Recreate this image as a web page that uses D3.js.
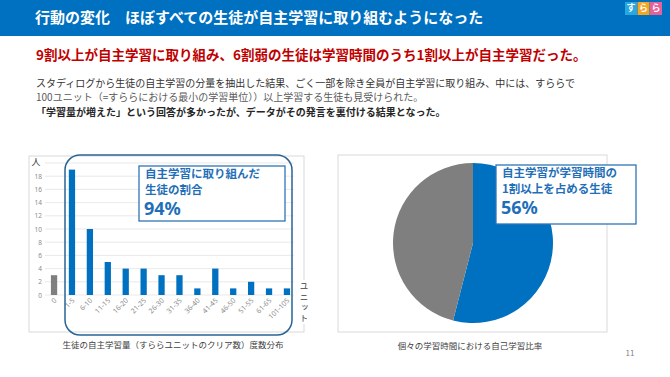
<!DOCTYPE html>
<html>
<head>
<meta charset="utf-8">
<script src="https://cdnjs.cloudflare.com/ajax/libs/d3/7.8.5/d3.min.js"></script>
<style>
  body { margin: 0; background: #fff; }
  text { font-family: "Noto Sans CJK JP", "Noto Sans", sans-serif; }
</style>
</head>
<body>
<script>
// bar chart data
const units = ["0", "1-5", "6-10", "11-15", "16-20", "21-25", "26-30", "31-35", "36-40", "41-45", "46-50", "51-55", "61-65", "101-105"];
const students = [3, 19, 10, 5, 4, 4, 3, 3, 1, 4, 1, 2, 1, 1];
const yTicks = [0, 2, 4, 6, 8, 10, 12, 14, 16, 18];
// pie data
const pieLabels = ["1割以上", "1割未満"];
const pieValues = [54, 46];

const w = 670, h = 377;
const blue = "#0070c0", gray = "#7f7f7f";

const svg = d3.select("body").append("svg")
  .attr("width", w).attr("height", h);

svg.append("rect").attr("width", w).attr("height", h).attr("fill", "#fff");

// header
svg.append("rect").attr("width", w).attr("height", 36).attr("fill", blue);
svg.append("text")
  .attr("x", 35).attr("y", 19)
  .attr("dominant-baseline", "middle")
  .attr("fill", "#fff").attr("font-size", 15).attr("font-weight", "bold")
  .text("行動の変化　ほぼすべての生徒が自主学習に取り組むようになった");

// logo
const logo = [["す", "#29a8e0"], ["ら", "#f5a623"], ["ら", "#e8609a"]];
logo.forEach((d, i) => {
  svg.append("rect").attr("x", 625 + i * 12.5).attr("y", 2).attr("width", 12).attr("height", 13).attr("fill", d[1]);
  svg.append("text").attr("x", 631 + i * 12.5).attr("y", 9)
    .attr("text-anchor", "middle").attr("dominant-baseline", "middle")
    .attr("fill", "#fff").attr("font-size", 9).attr("font-weight", "bold").text(d[0]);
});

svg.append("text")
  .attr("x", 36).attr("y", 56).attr("dominant-baseline", "middle")
  .attr("fill", "#c00000").attr("font-size", 13.5).attr("font-weight", "bold")
  .text("9割以上が自主学習に取り組み、6割弱の生徒は学習時間のうち1割以上が自主学習だった。");

const body = [
  ["スタディログから生徒の自主学習の分量を抽出した結果、ごく一部を除き全員が自主学習に取り組み、中には、すららで", "#333", "normal"],
  ["100ユニット（=すららにおける最小の学習単位））以上学習する生徒も見受けられた。", "#595959", "normal"],
  ["「学習量が増えた」という回答が多かったが、データがその発言を裏付ける結果となった。", "#262626", "bold"]
];
body.forEach((d, i) => {
  svg.append("text").attr("x", 36).attr("y", 84 + i * 14.5)
    .attr("dominant-baseline", "middle")
    .attr("fill", d[1]).attr("font-size", 10).attr("font-weight", d[2])
    .text(d[0]);
});

// ---- bar chart ----
svg.append("rect").attr("x", 29).attr("y", 156).attr("width", 275).attr("height", 176)
  .attr("fill", "none").attr("stroke", "#d9d9d9").attr("stroke-width", 1);

const x = d3.scaleBand().domain(units).range([45, 296]).paddingInner(0.65).paddingOuter(0.33);
const y = d3.scaleLinear().domain([0, 20]).range([295, 163]);

const grid = svg.append("g");
grid.selectAll("line").data(yTicks.concat([20])).enter().append("line")
  .attr("x1", 45).attr("x2", 294)
  .attr("y1", d => y(d)).attr("y2", d => y(d))
  .attr("stroke", "#e3e3e3").attr("stroke-width", 0.8);

const yAxis = svg.append("g").attr("transform", "translate(42,0)")
  .call(d3.axisLeft(y).tickValues(yTicks).tickSize(0).tickPadding(0));
yAxis.select(".domain").remove();
yAxis.selectAll("text").attr("fill", "#8c8c8c").attr("font-size", 6.5)
  .style("font-family", "'Noto Sans', sans-serif");

svg.append("text").attr("x", 36).attr("y", y(20)).attr("text-anchor", "middle")
  .attr("dominant-baseline", "middle").attr("font-size", 9).attr("fill", "#404040").text("人");

svg.selectAll(".bar").data(units).enter().append("rect")
  .attr("class", "bar")
  .attr("x", d => x(d))
  .attr("y", (d, i) => y(students[i]))
  .attr("width", x.bandwidth())
  .attr("height", (d, i) => y(0) - y(students[i]))
  .attr("fill", (d, i) => i === 0 ? gray : blue);

const xAxis = svg.append("g").attr("transform", "translate(0,298)")
  .call(d3.axisBottom(x).tickSize(0).tickPadding(0));
xAxis.select(".domain").remove();
xAxis.selectAll("text")
  .attr("fill", "#8c8c8c").attr("font-size", 7)
  .style("font-family", "'Noto Sans', sans-serif")
  .attr("text-anchor", "end")
  .attr("dy", 0).attr("y", 0)
  .attr("transform", "translate(3,3) rotate(-45)");

// vertical unit label
svg.append("rect").attr("x", 299).attr("y", 280).attr("width", 10).attr("height", 44).attr("fill", "#fff");
svg.append("text").attr("x", 304).attr("y", 282)
  .style("writing-mode", "vertical-rl")
  .attr("letter-spacing", 2)
  .attr("font-size", 8.5).attr("fill", "#404040").text("ユニット");

// highlight frame
svg.append("rect").attr("x", 65).attr("y", 155).attr("width", 227).attr("height", 180)
  .attr("rx", 15).attr("fill", "none").attr("stroke", "#2a6496").attr("stroke-width", 1.5);

function callout(x0, y0, bw, bh, l1, l2, big) {
  svg.append("rect").attr("x", x0).attr("y", y0).attr("width", bw).attr("height", bh)
    .attr("fill", "#fff").attr("stroke", "#2e75b6").attr("stroke-width", 1.3);
  const t = svg.append("g").attr("fill", "#1f6fb8").attr("font-weight", "bold");
  t.append("text").attr("x", x0 + 6).attr("y", y0 + 9).attr("dominant-baseline", "middle")
    .attr("font-size", 11.5).text(l1);
  t.append("text").attr("x", x0 + 6).attr("y", y0 + 24.5).attr("dominant-baseline", "middle")
    .attr("font-size", 11.5).text(l2);
  t.append("text").attr("x", x0 + 5).attr("y", y0 + 44).attr("dominant-baseline", "middle")
    .attr("font-size", 18).style("font-family", "'Noto Sans', sans-serif").text(big);
}
callout(139, 166, 146, 55, "自主学習に取り組んだ", "生徒の割合", "94%");

svg.append("text").attr("x", 173).attr("y", 346).attr("text-anchor", "middle")
  .attr("dominant-baseline", "middle").attr("font-size", 8.5).attr("fill", "#404040")
  .text("生徒の自主学習量（すららユニットのクリア数）度数分布");

// ---- pie chart ----
svg.append("rect").attr("x", 338).attr("y", 155).attr("width", 269).attr("height", 177)
  .attr("fill", "none").attr("stroke", "#d9d9d9").attr("stroke-width", 1);

const pie = d3.pie().sort(null).value(d => d)(pieValues);
const arc = d3.arc().innerRadius(0).outerRadius(80);
svg.append("g").attr("transform", "translate(473,243)")
  .selectAll("path").data(pie).enter().append("path")
  .attr("d", arc)
  .attr("fill", (d, i) => i === 0 ? blue : gray);

callout(496, 165, 140, 59, "自主学習が学習時間の", "1割以上を占める生徒", "56%");

svg.append("text").attr("x", 470).attr("y", 347).attr("text-anchor", "middle")
  .attr("dominant-baseline", "middle").attr("font-size", 8.5).attr("fill", "#404040")
  .text("個々の学習時間における自己学習比率");

svg.append("text").attr("x", 630).attr("y", 354).attr("text-anchor", "middle")
  .attr("dominant-baseline", "middle").attr("font-size", 8).attr("fill", "#7f7f7f")
  .text("11");
</script>
</body>
</html>
